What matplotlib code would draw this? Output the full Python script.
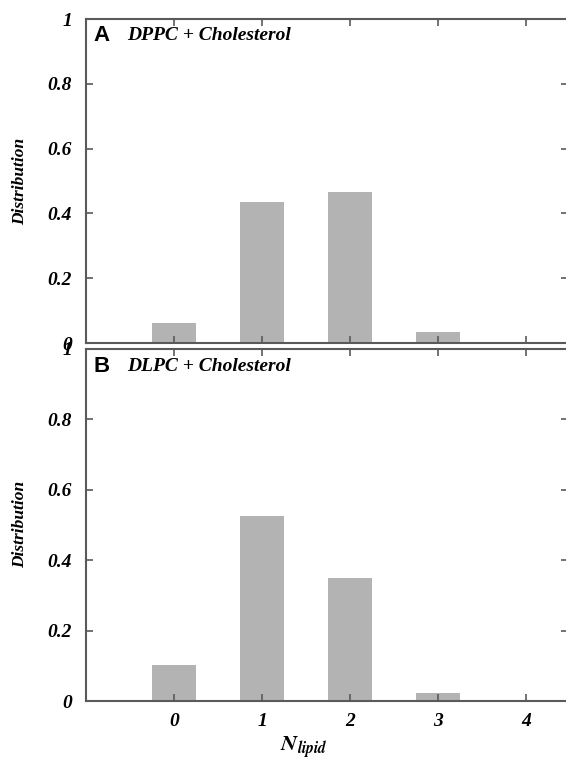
import matplotlib
matplotlib.use("Agg")
import matplotlib.pyplot as plt

# Data
n_lipid = [0, 1, 2, 3, 4]
dppc_dist = [0.063, 0.434, 0.467, 0.035, 0.0]
dlpc_dist = [0.102, 0.526, 0.348, 0.022, 0.0]
yticks = [0, 0.2, 0.4, 0.6, 0.8, 1]
ytick_labels = ["0", "0.2", "0.4", "0.6", "0.8", "1"]
xtick_labels = ["0", "1", "2", "3", "4"]
panels = [("A", "DPPC + Cholesterol", dppc_dist), ("B", "DLPC + Cholesterol", dlpc_dist)]

plt.rcParams['mathtext.fontset'] = 'stix'
serif = 'Liberation Serif'
W, H = 566, 762
fig = plt.figure(figsize=(W / 100, H / 100), dpi=100)

boxes = [(86, 19, 343), (86, 348.7, 701)]
spine_col = '#5a5a5a'
axes = []
for (letter, title, vals), (l, t, b) in zip(panels, boxes):
    ax = fig.add_axes([l / W, 1 - b / H, 1.003 - l / W, (b - t) / H])
    ax.bar(n_lipid, vals, width=0.5, color='#b3b3b3', edgecolor='none')
    ax.set_xlim(-1, 4.47)
    ax.set_ylim(0, 1)
    ax.set_xticks(n_lipid)
    ax.set_yticks(yticks)
    ax.set_yticklabels(ytick_labels, fontfamily=serif, fontweight='bold',
                       fontstyle='italic', fontsize=14)
    ax.tick_params(direction='in', length=5, width=1.2, color=spine_col,
                   top=True, right=True, pad=10)
    for s in ax.spines.values():
        s.set_color(spine_col)
        s.set_linewidth(1.5)
    ax.set_ylabel('Distribution', fontfamily=serif, fontweight='bold',
                  fontstyle='italic', fontsize=12.5)
    ax.text(0.015, 0.95, letter, transform=ax.transAxes, fontfamily='Liberation Sans',
            fontweight='bold', fontsize=16, va='center', ha='left')
    ax.text(0.085, 0.95, title, transform=ax.transAxes, fontfamily=serif,
            fontweight='bold', fontstyle='italic', fontsize=14, va='center', ha='left')
    axes.append(ax)

axes[0].set_xticklabels([])
axes[1].set_xticklabels(xtick_labels, fontfamily=serif, fontweight='bold',
                        fontstyle='italic', fontsize=14)
axes[1].tick_params(axis='x', pad=9)
axes[1].set_xlabel(r'$\mathbfit{N}_{\mathbfit{lipid}}$', fontsize=16)
axes[1].xaxis.set_label_coords(0.452, -0.097)
for ax in axes:
    ax.yaxis.set_label_coords(-0.12, 0.5)

fig.savefig('out.png', dpi=100)
